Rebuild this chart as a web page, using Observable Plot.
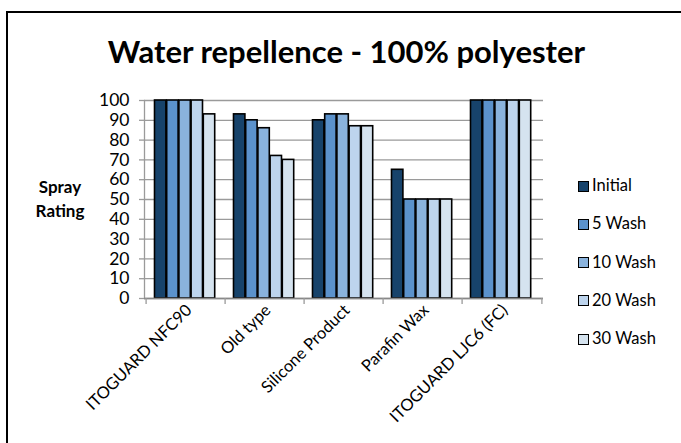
<!DOCTYPE html>
<html>
<head>
<meta charset="utf-8">
<script src="https://cdn.jsdelivr.net/npm/d3@7"></script>
<script src="https://cdn.jsdelivr.net/npm/@observablehq/plot@0.6"></script>
<style>
  html, body { margin: 0; padding: 0; background: #fff; width: 681px; height: 443px; overflow: hidden; }
  body { font-family: Lato, "Open Sans", sans-serif; position: relative; }
  #frame { position: absolute; left: 6px; top: 11px; width: 720px; height: 480px; border: 2px solid #000; box-sizing: border-box; }
  #title { position: absolute; left: 0; width: 693px; top: 32px; text-align: center; font-weight: bold; font-size: 31px; color: #000; }
  #ylabel { position: absolute; left: 24px; width: 72px; top: 175px; text-align: center; font-weight: bold; font-size: 17px; line-height: 24px; color: #000; }
  #chart { position: absolute; left: 0; top: 0; }
  #legend { position: absolute; left: 578px; top: 175px; font-size: 16.5px; color: #000; }
  .item { height: 38.3px; display: flex; align-items: flex-start; }
  .sw { width: 9px; height: 9px; border: 1.4px solid #000; margin-top: 5.5px; margin-right: 3px; }
</style>
</head>
<body>
<div id="frame"></div>
<div id="title">Water repellence - 100% polyester</div>
<div id="ylabel">Spray<br>Rating</div>
<div id="chart"></div>
<div id="legend"></div>
<script>
const categories = ["ITOGUARD NFC90", "Old type", "Silicone Product", "Parafin Wax", "ITOGUARD LJC6 (FC)"];
const seriesNames = ["Initial", "5 Wash", "10 Wash", "20 Wash", "30 Wash"];
const initial = [100, 93, 90, 65, 100];
const wash5 = [100, 90, 93, 50, 100];
const wash10 = [100, 86, 93, 50, 100];
const wash20 = [100, 72, 87, 50, 100];
const wash30 = [93, 70, 87, 50, 100];
const seriesColors = ["#17436b", "#5b92cc", "#8ab3dd", "#bdd4ed", "#d5e3ef"];
const yTicks = [0, 10, 20, 30, 40, 50, 60, 70, 80, 90, 100];

const seriesValues = [initial, wash5, wash10, wash20, wash30];

const W = 681, H = 443;
const mL = 144, mR = 138, mT = 100, mB = 145;
const bw = (W - mL - mR) / categories.length;
const barW = 12.2;
const off = 8.5;

const barMarks = seriesValues.map((vals, i) => {
  const rows = categories.map((c, j) => ({cat: c, value: vals[j], series: seriesNames[i]}));
  return Plot.barY(rows, {
    x: "cat", y: "value", fill: seriesColors[i], stroke: "#000", strokeWidth: 1.6,
    insetLeft: off + i * barW, insetRight: bw - off - (i + 1) * barW
  });
});

const chart = Plot.plot({
  width: W, height: H,
  marginLeft: mL, marginRight: mR, marginTop: mT, marginBottom: mB,
  style: {fontFamily: "Lato, 'Open Sans', sans-serif", background: "transparent", color: "#000"},
  x: {domain: categories, padding: 0, label: null},
  y: {domain: [0, 100], label: null},
  marks: [
    Plot.ruleY(yTicks, {stroke: "#9a9a9a", strokeWidth: 1.3}),
    Plot.axisY({ticks: yTicks, tickSize: 5, tickPadding: 10, fontSize: 17.5, stroke: "#9a9a9a", strokeWidth: 1.3, label: null, strokeOpacity: 1}),
    Plot.frame({anchor: "left", stroke: "#9a9a9a", strokeWidth: 1.3}),
    ...barMarks,
    Plot.ruleY([0], {stroke: "#888", strokeWidth: 1.3}),
    Plot.axisX({ticks: categories, tickSize: 6, dx: -bw / 2, tickFormat: () => "", stroke: "#9a9a9a", strokeWidth: 1.3, strokeOpacity: 1, label: null}),
    Plot.axisX({ticks: [categories[categories.length - 1]], tickSize: 6, dx: bw / 2, tickFormat: () => "", stroke: "#9a9a9a", strokeWidth: 1.3, strokeOpacity: 1, label: null}),
    Plot.axisX({ticks: categories, tickSize: 0, tickPadding: 9, tickRotate: -45, fontSize: 16.5, dx: 3, label: null})
  ]
});
document.getElementById("chart").appendChild(chart);

const legend = document.getElementById("legend");
seriesNames.forEach((s, i) => {
  const item = document.createElement("div");
  item.className = "item";
  const sw = document.createElement("div");
  sw.className = "sw";
  sw.style.background = seriesColors[i];
  const t = document.createElement("span");
  t.textContent = s;
  item.appendChild(sw);
  item.appendChild(t);
  legend.appendChild(item);
});
</script>
</body>
</html>
